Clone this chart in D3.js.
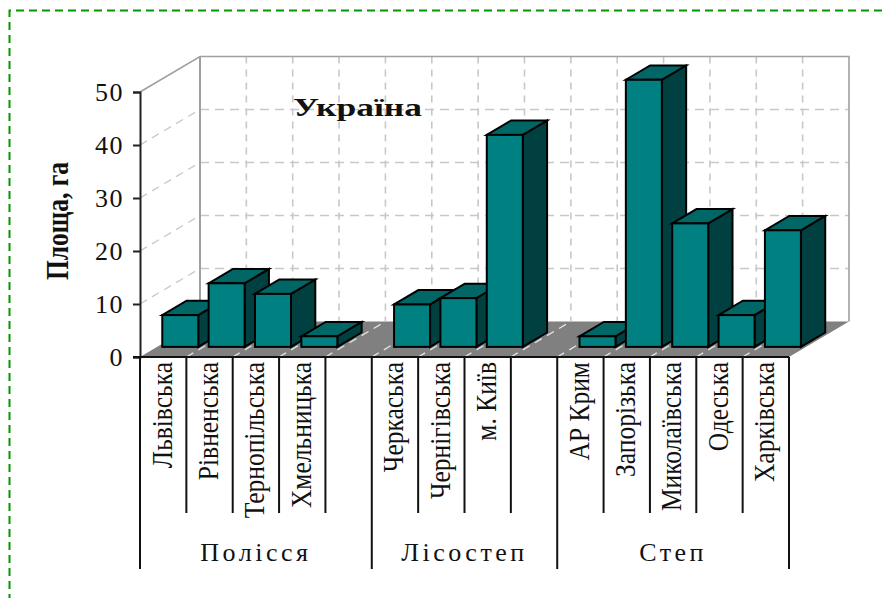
<!DOCTYPE html>
<html><head><meta charset="utf-8">
<script src="https://cdn.jsdelivr.net/npm/d3@7"></script>
<style>html,body{margin:0;padding:0;background:#fff}svg{display:block}text{font-family:"Liberation Serif",serif;fill:#111}</style>
</head><body><svg id="c" width="882" height="598"></svg>
<script>
const categories=["Львівська","Рівненська","Тернопільська","Хмельницька","","Черкаська","Чернігівська","м. Київ","","АР Крим","Запорізька","Миколаївська","Одеська","Харківська"];
const areas=[6,12,10,2,null,8,9.2,40,null,2,50.4,23.3,6,22];
const groupNames=["Полісся","Лісостеп","Степ"];
const groupSlots=[5,4,5];
const yTicks=[0,10,20,30,40,50];

const svg=d3.select("#c");
const left=140,right=789,base=357,top50=92,backDx=60,backDy=-35.5;
const x=d3.scaleBand().domain(d3.range(categories.length)).range([left,right]).paddingInner(0).paddingOuter(0);
const y=d3.scaleLinear().domain([0,50]).range([base,top50]);
const step=x.step(),barW=36,inset=(step-barW)/2;
const depthStart=0.285,depthEnd=0.69;

// green frame
svg.append("path").attr("d","M882,10.5H9.5V598").attr("fill","none").attr("stroke","#009900").attr("stroke-width",2).attr("stroke-dasharray","8 5");

// floor
svg.append("polygon").attr("points",[[left,base],[left+backDx,base+backDy],[right+backDx,base+backDy],[right,base]].join(" ")).attr("fill","#808080");

const grid="#c8c8c8";
const g=svg.append("g").attr("fill","none");
// back wall gridlines
g.selectAll("line.v").data(d3.range(1,categories.length)).join("line").attr("class","v")
 .attr("x1",d=>x(d)+backDx).attr("x2",d=>x(d)+backDx).attr("y1",y(50)+backDy).attr("y2",base+backDy)
 .attr("stroke",grid).attr("stroke-width",1.6).attr("stroke-dasharray","7 6");
g.selectAll("line.h").data(yTicks.slice(1,-1).concat([])).join("line").attr("class","h")
 .attr("x1",left+backDx).attr("x2",right+backDx).attr("y1",d=>y(d)+backDy).attr("y2",d=>y(d)+backDy)
 .attr("stroke",grid).attr("stroke-width",1.6).attr("stroke-dasharray","9 6");
// side wall gridlines
g.selectAll("line.s").data(yTicks.slice(1,-1)).join("line").attr("class","s")
 .attr("x1",left).attr("x2",left+backDx).attr("y1",d=>y(d)).attr("y2",d=>y(d)+backDy)
 .attr("stroke",grid).attr("stroke-width",1.3).attr("stroke-dasharray","8 6");
// floor gridlines
g.selectAll("line.f").data(d3.range(1,categories.length)).join("line").attr("class","f")
 .attr("x1",d=>x(d)).attr("x2",d=>x(d)+backDx).attr("y1",base).attr("y2",base+backDy)
 .attr("stroke","#e4e4e4").attr("stroke-width",1.3).attr("stroke-dasharray","8 6");
// wall outline
g.append("path").attr("d",`M${left},${y(50)}L${left+backDx},${y(50)+backDy}H${right+backDx}V${base+backDy}`).attr("stroke","#a0a0a0").attr("stroke-width",1.6);
g.append("line").attr("x1",left+backDx).attr("x2",left+backDx).attr("y1",y(50)+backDy).attr("y2",base+backDy).attr("stroke","#a0a0a0").attr("stroke-width",2);

// bars
const bars=svg.append("g").attr("stroke","#000").attr("stroke-width",2).attr("stroke-linejoin","miter");
categories.forEach((c,i)=>{
  const v=areas[i]; if(v==null)return;
  const fx=x(i)+inset+backDx*depthStart, by=base+backDy*depthStart, ty=by-(y(0)-y(v));
  const ox=backDx*(depthEnd-depthStart), oy=backDy*(depthEnd-depthStart);
  const b=bars.append("g");
  b.append("polygon").attr("fill","#004040").attr("points",[[fx+barW,ty],[fx+barW+ox,ty+oy],[fx+barW+ox,by+oy],[fx+barW,by]].join(" "));
  b.append("polygon").attr("fill","#006666").attr("points",[[fx,ty],[fx+ox,ty+oy],[fx+barW+ox,ty+oy],[fx+barW,ty]].join(" "));
  b.append("rect").attr("fill","#008080").attr("x",fx).attr("y",ty).attr("width",barW).attr("height",by-ty);
});

// y axis
const axis=svg.append("g").attr("transform",`translate(${left},0)`).call(d3.axisLeft(y).tickValues(yTicks).tickSize(7).tickPadding(9));
axis.selectAll("path,line").attr("stroke","#222").attr("stroke-width",2);
axis.selectAll("text").attr("font-size",26).attr("letter-spacing",1.5).attr("fill","#222").style("font-family",'"Liberation Serif",serif');

// baseline and category ticks
const ax=svg.append("g").attr("stroke","#111").attr("stroke-width",2);
ax.append("line").attr("x1",left-7).attr("x2",right).attr("y1",base).attr("y2",base);
ax.selectAll("line.t").data(d3.range(0,categories.length+1)).join("line").attr("class","t")
 .attr("x1",d=>left+d*step).attr("x2",d=>left+d*step).attr("y1",base).attr("y2",513);
const edges=[0];groupSlots.forEach(n=>edges.push(edges[edges.length-1]+n));
ax.selectAll("line.g").data(edges).join("line").attr("class","g")
 .attr("x1",d=>left+d*step).attr("x2",d=>left+d*step).attr("y1",513).attr("y2",569);

// category labels
svg.append("g").selectAll("text").data(categories).join("text")
 .attr("transform",(d,i)=>`translate(${x(i)+31.5},362) rotate(-90) scale(0.85,1)`)
 .attr("text-anchor","end").attr("font-size",30).text(d=>d);

// group labels
svg.append("g").selectAll("text").data(groupNames).join("text")
 .attr("x",(d,i)=>left+(edges[i]+edges[i+1])/2*step).attr("y",561)
 .attr("text-anchor","middle").attr("font-size",26).attr("letter-spacing",3.5).text(d=>d);

// title
svg.append("text").attr("x",293).attr("y",116).attr("font-size",25).attr("font-weight","bold").attr("textLength",129).attr("lengthAdjust","spacingAndGlyphs").text("Україна");
// y title
svg.append("text").attr("transform","translate(68,221) rotate(-90)").attr("text-anchor","middle").attr("font-size",32).attr("font-weight","bold").attr("textLength",118).attr("lengthAdjust","spacingAndGlyphs").text("Площа, га");
</script></body></html>
